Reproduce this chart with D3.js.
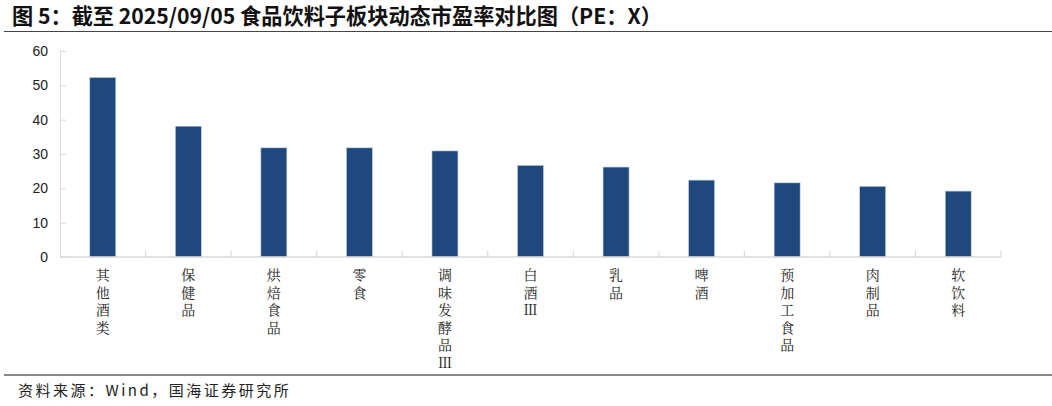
<!DOCTYPE html>
<html>
<head>
<meta charset="utf-8">
<script src="https://cdn.jsdelivr.net/npm/d3@7"></script>
<style>
  body { margin: 0; background: #fff; }
  svg { display: block; }
</style>
</head>
<body>
<div id="chart"></div>
<script>
// sub-sector names (vertical labels) and dynamic PE values
const categories = ["其他酒类", "保健品", "烘焙食品", "零食", "调味发酵品Ⅲ", "白酒Ⅲ", "乳品", "啤酒", "预加工食品", "肉制品", "软饮料"];
const peValues = [52.3, 38.1, 31.8, 31.8, 30.9, 26.7, 26.2, 22.4, 21.6, 20.6, 19.2];
const yTicks = [0, 10, 20, 30, 40, 50, 60];

const titleText = "图 5：截至 2025/09/05 食品饮料子板块动态市盈率对比图（PE：X）";
const sourceText = "资料来源：Wind，国海证券研究所";

const W = 1052, H = 406;
const margin = { left: 60, right: 51, top: 51, bottom: 149 }; // plot area 60..1001 x 51..257

const svg = d3.select("#chart").append("svg")
  .attr("width", W)
  .attr("height", H);

// title + rule
svg.append("text")
  .attr("x", 12)
  .attr("y", 24)
  .text(titleText)
  .style("font-family", "'Noto Sans CJK SC', sans-serif")
  .style("font-weight", "bold")
  .style("font-size", "21.2px")
  .attr("fill", "#111");

svg.append("line")
  .attr("x1", 4).attr("x2", W)
  .attr("y1", 31.5).attr("y2", 31.5)
  .attr("stroke", "#444").attr("stroke-width", 1.2);

// scales
const x = d3.scaleBand()
  .domain(categories)
  .range([margin.left, W - margin.right]);

const y = d3.scaleLinear()
  .domain([0, 60])
  .range([H - margin.bottom, margin.top]);

const axisColor = "#d9d9d9";

// y axis (ticks pointing into the plot)
const yAxis = svg.append("g")
  .attr("transform", `translate(${margin.left},0)`)
  .call(d3.axisLeft(y).tickValues(yTicks).tickSize(-6).tickPadding(12));
yAxis.select(".domain").attr("stroke", axisColor);
yAxis.selectAll(".tick line").attr("stroke", axisColor);
yAxis.selectAll(".tick text")
  .style("font-family", "'Liberation Sans', Arial, sans-serif")
  .style("font-size", "14px")
  .attr("fill", "#222");

// bars
svg.append("g")
  .selectAll("rect")
  .data(peValues)
  .join("rect")
    .attr("x", (d, i) => x(categories[i]) + (x.bandwidth() - 26) / 2)
    .attr("width", 26)
    .attr("y", d => y(d))
    .attr("height", d => y(0) - y(d))
    .attr("fill", "#1f497d")
    .attr("stroke", "#c9d3e3")
    .attr("stroke-width", 0.6);

// x axis line with upward ticks at band edges
const baseY = y(0);
svg.append("line")
  .attr("x1", margin.left).attr("x2", W - margin.right)
  .attr("y1", baseY).attr("y2", baseY)
  .attr("stroke", axisColor).attr("stroke-width", 1.5);

const edges = categories.map(c => x(c)).concat([x(categories[categories.length - 1]) + x.bandwidth()]);
svg.append("g")
  .selectAll("line")
  .data(edges.slice(1))
  .join("line")
    .attr("x1", d => d).attr("x2", d => d)
    .attr("y1", baseY).attr("y2", baseY - 6)
    .attr("stroke", axisColor).attr("stroke-width", 1.2);

// vertical category labels (upright vertical writing)
svg.append("g")
  .selectAll("text")
  .data(categories)
  .join("text")
    .attr("x", d => x(d) + x.bandwidth() / 2)
    .attr("y", 268)
    .text(d => d)
    .style("writing-mode", "vertical-rl")
    .style("text-orientation", "upright")
    .style("letter-spacing", "3.5px")
    .style("font-family", "'Noto Serif CJK SC', 'Noto Sans CJK SC', serif")
    .style("font-size", "14px")
    .attr("fill", "#222");

// footer
svg.append("line")
  .attr("x1", 4).attr("x2", W)
  .attr("y1", 375).attr("y2", 375)
  .attr("stroke", "#111").attr("stroke-width", 1.2);

svg.append("text")
  .attr("x", 18)
  .attr("y", 396)
  .text(sourceText)
  .style("font-family", "'Noto Sans CJK SC', sans-serif")
  .style("font-size", "15px")
  .style("letter-spacing", "2.5px")
  .attr("fill", "#222");
</script>
</body>
</html>
